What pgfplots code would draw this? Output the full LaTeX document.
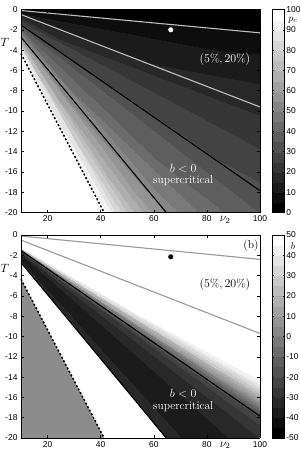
\documentclass[border=0pt]{standalone}
\usepackage{pgfplots}
\pgfplotsset{compat=1.18}
\usepackage{fontspec}
\setsansfont{Liberation Sans}
\begin{document}
\begin{tikzpicture}
\pgfplotsset{
  base/.style={
    scale only axis, width=239bp, height=203bp,
    anchor=north west, clip=false,
    xmin=10, xmax=100, ymin=-20, ymax=0, zmin=-1, zmax=1,
    view={0}{90},
    xtick={20,40,60,80,100}, ytick={-20,-18,...,0}, ztick=\empty,
    tick align=inside, major tick length=3bp,
    tick style={line width=0.5pt, black},
    tick label style={font=\fontsize{8.5}{9}\sffamily},
    /pgf/number format/assume math mode=true,
    axis line style={line width=0.9pt},
    colormap={gs}{gray=(0) gray=(0.0526) gray=(0.1053) gray=(0.1579) gray=(0.2105)
      gray=(0.2632) gray=(0.3158) gray=(0.3684) gray=(0.4211) gray=(0.4737)
      gray=(0.5263) gray=(0.5789) gray=(0.6316) gray=(0.6842) gray=(0.7368)
      gray=(0.7895) gray=(0.8421) gray=(0.8947) gray=(0.9474) gray=(1)},
    colormap access=piecewise constant,
    colorbar,
    colorbar style={
      at={(parent axis.north east)}, anchor=north west, xshift=3.8bp,
      width=12.4bp,
      tick align=inside, major tick length=2bp,
      tick style={line width=0.5pt, black},
      yticklabel style={font=\fontsize{8.5}{9}\sffamily, inner sep=1.5bp},
      /pgf/number format/assume math mode=true,
      axis line style={line width=0.8pt},
    },
  },
}
% ---------------- panel (a) ----------------
\begin{axis}[base, at={(0,0)},
  point meta min=0, point meta max=100,
  colorbar style={ytick={0,10,...,100}}]
\addplot3[surf, shader=interp, mesh/cols=2, point meta=explicit]
  table[meta=c] {
x y z c
10 0 0 0
100 0 0 0
10 -0.1955 0 5.5
100 -2.2655 0 5.5
10 -0.425 0 11
100 -4.925 0 11
10 -0.85 0 19
100 -9.85 0 19
10 -1.19 0 25
100 -13.79 0 25
10 -1.53 0 31
100 -17.73 0 31
10 -1.7259 0 35
100 -20 0 35
10 -2.125 0 42
81.5 -20 0 42
10 -2.55 0 51
68.1667 -20 0 51
10 -2.975 0 61
58.6429 -20 0 61
10 -3.4 0 72
51.5 -20 0 72
10 -3.825 0 85
45.9444 -20 0 85
10 -4.25 0 97
41.5 -20 0 97
10 -4.675 0 100
37.8636 -20 0 100
10 -20 0 100
10 -20 0 100
};
\addplot3[black!25, line width=1.1pt] coordinates {(10,-0.1,0) (100,-2.3,0)};
\addplot3[black!25, line width=1.1pt] coordinates {(10,-0.5,0) (100,-9.6,0)};
\addplot3[black, line width=1.1pt] coordinates {(10,-1.53,0) (100,-17.85,0)};
\addplot3[black, line width=1.1pt] coordinates {(10,-2.72,0) (64.7,-20,0)};
\addplot3[black, line width=1.5pt, dash pattern=on 2pt off 2pt] coordinates {(10,-4.35,0) (41.3,-20,0)};
\addplot3[only marks, mark=*, mark size=2.3pt, white] coordinates {(66.4,-2.0,0)};
\node[font=\fontsize{11.5}{12}\selectfont] at (axis cs:96.6,-1.0,0) {(a)};
\node[font=\fontsize{11.5}{12}\selectfont, white] at (axis cs:86.8,-4.93,0) {$(5\%,20\%)$};
\node[font=\fontsize{11.5}{12}\selectfont, white, align=center, inner sep=0pt] at (axis cs:71.1,-16.3,0) {$b<0$\\supercritical};
\node[font=\fontsize{12}{12}\selectfont] at (axis description cs:-0.067,0.837) {$T$};
\node[font=\fontsize{12}{12}\selectfont, anchor=north, inner sep=0pt] at (axis description cs:0.854,-0.018) {$\nu_2$};
\node[overlay, font=\fontsize{10}{11}\selectfont, inner sep=0pt] at (axis description cs:1.138,0.948) {$p_c$};
\end{axis}
% ---------------- panel (b) ----------------
\begin{axis}[base, at={(0,-225.5bp)},
  point meta min=-50, point meta max=50,
  colorbar style={ytick={-50,-40,...,50}}]
\addplot3[surf, shader=interp, mesh/cols=2, point meta=explicit]
  table[meta=c] {
x y z c
10 0 0 50
100 0 0 50
10 -1.19 0 50
100 -13.79 0 50
10 -1.275 0 40
100 -14.775 0 40
10 -1.36 0 22
100 -15.76 0 22
10 -1.445 0 2
100 -16.745 0 2
10 -1.53 0 -18
100 -17.73 0 -18
10 -1.615 0 -25
100 -18.715 0 -25
10 -1.7259 0 -30
100 -20 0 -30
10 -1.955 0 -35
88.4565 -20 0 -35
10 -2.21 0 -37
78.4231 -20 0 -37
10 -2.465 0 -35
70.4655 -20 0 -35
10 -2.70 0 -30
64.75 -20 0 -30
10 -2.72 0 50
64.6 -20 0 50
10 -20 0 50
10 -20 0 50
};
\addplot3[fill=black!45, draw=none] coordinates {(10,-4.35,0) (41.3,-20,0) (10,-20,0)};
\addplot3[black!40, line width=1.1pt] coordinates {(10,-0.1,0) (100,-2.4,0)};
\addplot3[black!40, line width=1.1pt] coordinates {(10,-0.5,0) (100,-9.7,0)};
\addplot3[black, line width=1.1pt] coordinates {(10,-1.53,0) (100,-17.85,0)};
\addplot3[black, line width=1.1pt] coordinates {(10,-2.72,0) (64.7,-20,0)};
\addplot3[black, line width=1.5pt, dash pattern=on 2pt off 2pt] coordinates {(10,-4.35,0) (41.3,-20,0)};
\addplot3[only marks, mark=*, mark size=2.3pt, black] coordinates {(66.4,-2.15,0)};
\node[font=\fontsize{11.5}{12}\selectfont] at (axis cs:96.6,-1.0,0) {(b)};
\node[font=\fontsize{11.5}{12}\selectfont] at (axis cs:86.8,-4.85,0) {$(5\%,20\%)$};
\node[font=\fontsize{11.5}{12}\selectfont, white, align=center, inner sep=0pt] at (axis cs:71.1,-16.3,0) {$b<0$\\supercritical};
\node[font=\fontsize{12}{12}\selectfont] at (axis description cs:-0.067,0.837) {$T$};
\node[font=\fontsize{12}{12}\selectfont, anchor=north, inner sep=0pt] at (axis description cs:0.854,-0.018) {$\nu_2$};
\node[overlay, font=\fontsize{10}{11}\selectfont, inner sep=0pt] at (axis description cs:1.138,0.948) {$b$};
\end{axis}
\pgfresetboundingbox
\path[use as bounding box] (-21bp,9.5bp) rectangle (279bp,-451.5bp);
\end{tikzpicture}
\end{document}
